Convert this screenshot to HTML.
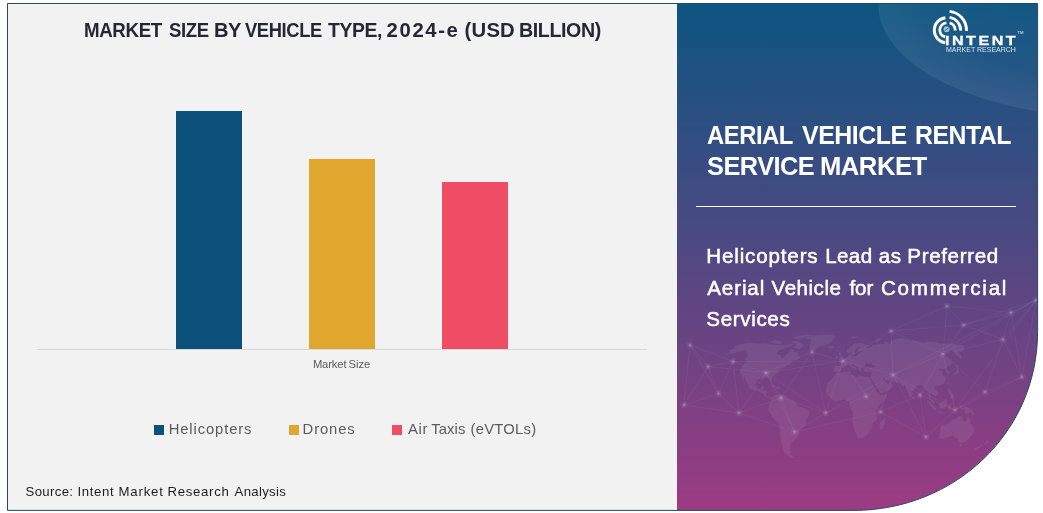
<!DOCTYPE html>
<html>
<head>
<meta charset="utf-8">
<title>Aerial Vehicle Rental Service Market</title>
<style>
html,body{margin:0;padding:0;background:#ffffff;}
body{width:1043px;height:513px;position:relative;overflow:hidden;font-family:"Liberation Sans",sans-serif;}
#art{position:absolute;left:0;top:0;}
#txt{position:absolute;left:0;top:0;width:1043px;height:513px;will-change:transform;}
.t{position:absolute;white-space:nowrap;line-height:1;margin:0;padding:0;transform-origin:0 0;}
/*TEXTCSS*/
.g_title{top:19.85px;font-size:20.30px;color:#232834;font-weight:bold;}
.g_axlab{top:358.90px;font-size:11.20px;color:#595959;}
.g_leg{top:421.75px;font-size:14.80px;color:#5b5b5b;}
.g_src{top:484.90px;font-size:13.20px;color:#1e1e1e;}
.g_pt1{top:121.60px;font-size:26.20px;color:#ffffff;font-weight:bold;}
.g_pt2{top:153.25px;font-size:26.20px;color:#ffffff;font-weight:bold;}
.g_ps1{top:246.05px;font-size:20.60px;color:#ffffff;-webkit-text-stroke:0.50px #ffffff;}
.g_ps2{top:277.50px;font-size:20.60px;color:#ffffff;-webkit-text-stroke:0.50px #ffffff;}
.g_ps3{top:308.85px;font-size:20.60px;color:#ffffff;-webkit-text-stroke:0.50px #ffffff;}
/*ENDTEXTCSS*/
#lg1{left:944.9px;top:33.6px;font-size:13.4px;font-weight:bold;color:#ffffff;letter-spacing:2.1px;transform:scaleX(1.2);-webkit-text-stroke:0.3px #ffffff;}
#lg2{left:945.6px;top:46.2px;font-size:8px;color:#d4e4f1;transform:scaleX(0.875);}
#lg3{left:1017.5px;top:31px;font-size:4.2px;color:#e8f0f7;}
</style>
</head>
<body>
<svg id="art" width="1043" height="513" viewBox="0 0 1043 513">
  <defs>
    <linearGradient id="pg" x1="0" y1="0" x2="0" y2="1">
      <stop offset="0" stop-color="#0b5581"/>
      <stop offset="0.5" stop-color="#514882"/>
      <stop offset="1" stop-color="#9d3b83"/>
    </linearGradient>
    <clipPath id="frame">
      <path d="M7.5 3.5 H1037.6 V331.4 C1037.6 434.2 953 510.4 854 510.4 H7.5 Z"/>
    </clipPath>
    <radialGradient id="glow" cx="0.5" cy="0.5" r="0.5">
      <stop offset="0" stop-color="#ffffff" stop-opacity="0.02"/>
      <stop offset="0.7" stop-color="#ffffff" stop-opacity="0.03"/>
      <stop offset="1" stop-color="#ffffff" stop-opacity="0.075"/>
    </radialGradient>
  </defs>
  <g clip-path="url(#frame)">
    <rect x="0" y="0" width="677" height="513" fill="#f2f2f2"/>
    <rect x="677" y="0" width="366" height="513" fill="url(#pg)"/>
    <ellipse cx="1111" cy="4.7" rx="232.7" ry="112.3" fill="url(#glow)"/>
    <path id="wmap" fill="#ffffff" fill-opacity="0.07" d="M733.9 346.9L739.5 344.6L748.7 342.7L756.7 343.7L765.1 343.4L771.5 344.6L777.4 345.0L783.2 345.4L788.5 344.6L793.0 343.8L791.0 346.5L785.6 348.1L779.2 350.6L776.4 352.5L776.9 353.9L780.7 355.3L781.2 357.8L782.8 358.6L784.9 355.6L788.3 353.1L790.6 349.3L793.6 349.7L794.2 352.2L797.9 351.4L797.0 353.9L798.8 355.6L800.4 358.2L796.5 359.9L791.9 359.9L787.4 362.6L792.0 361.2L791.3 363.4L794.1 363.4L789.5 364.8L785.9 365.7L784.8 367.3L781.4 368.4L778.8 370.6L778.2 373.0L775.2 374.4L772.3 376.5L772.0 380.6L771.1 382.2L770.3 380.6L770.0 378.3L768.3 378.1L765.1 377.7L763.9 378.7L760.6 378.3L757.5 379.8L756.0 383.3L755.5 385.5L756.4 387.8L757.6 388.5L760.3 388.3L761.6 386.0L764.8 385.5L763.3 388.7L762.5 390.5L766.5 390.7L766.7 393.7L766.0 395.9L767.6 396.9L769.8 396.4L771.8 397.3L771.0 398.7L769.3 397.5L766.6 397.5L764.5 395.9L763.0 393.2L760.0 392.3L757.6 390.5L754.9 390.7L751.6 389.4L748.5 387.3L748.6 385.1L747.1 382.4L744.9 378.7L744.9 376.7L743.4 376.9L744.5 382.4L745.3 384.2L743.8 381.9L742.6 379.2L742.1 375.6L740.0 373.8L740.1 371.5L740.2 368.8L744.5 363.4L747.2 361.2L745.7 359.5L746.7 356.5L747.5 353.9L746.5 352.5L745.1 351.4L742.6 350.7L738.2 351.8L734.4 353.1L729.7 354.3L723.2 355.8L731.4 352.6L729.2 352.2L729.8 350.6L733.1 348.9L736.7 348.0L734.1 347.6ZM805.5 337.4L810.8 336.2L817.7 335.1L828.1 334.5L834.8 335.6L835.7 337.1L832.9 339.8L830.6 342.7L827.4 344.6L822.7 345.4L818.7 346.9L814.7 349.7L812.5 351.4L810.1 350.6L809.5 348.1L809.4 345.8L810.6 343.4L811.2 340.5L809.8 338.9L805.5 338.8ZM797.4 340.9L799.2 342.0L802.0 343.4L803.9 345.8L800.6 348.5L797.3 349.3L795.6 348.1L792.9 347.3L796.9 345.0L795.2 343.4L791.2 342.7L792.2 340.9ZM769.3 342.0L772.4 342.7L776.4 344.2L781.1 343.4L782.3 341.2L778.1 340.9L775.8 339.8ZM793.9 339.1L799.5 339.1L804.9 337.1L813.9 335.4L808.1 334.8L799.4 335.6L794.3 337.1ZM771.8 397.3L774.0 395.2L776.8 394.1L777.6 395.0L780.3 394.6L783.8 395.5L786.0 395.5L787.3 397.3L789.8 399.6L794.3 400.5L796.0 404.1L797.8 406.0L801.4 407.4L805.0 407.9L807.8 409.8L809.6 411.8L809.7 413.7L808.0 416.6L806.4 419.5L806.2 422.4L805.2 426.3L802.7 427.2L799.6 430.1L799.4 432.6L797.4 436.9L795.3 438.9L794.1 440.3L794.1 441.7L790.7 442.7L791.1 444.6L789.3 445.6L790.1 448.5L789.2 449.9L791.0 451.3L790.1 454.1L791.5 455.9L794.4 457.8L791.8 458.2L787.2 455.5L783.6 451.3L782.9 447.5L781.2 442.7L780.6 438.9L780.0 434.0L779.8 429.2L779.0 422.9L775.4 420.5L773.1 418.1L770.7 413.7L768.3 410.8L767.9 409.2L769.1 407.4L768.3 406.0L769.0 404.1L770.4 402.7L771.4 401.4L771.5 398.7ZM836.6 372.6L839.9 373.1L844.2 371.7L850.0 371.2L850.8 374.2L850.0 374.5L854.3 375.8L857.7 377.6L858.5 375.6L862.8 376.2L866.2 376.9L869.2 376.8L870.7 379.7L872.3 383.3L873.8 386.0L875.2 388.7L876.7 391.4L879.5 394.1L880.4 395.5L886.6 394.1L886.3 396.9L884.1 400.5L880.6 404.1L877.9 406.9L876.0 410.8L877.3 415.2L877.1 419.5L873.0 422.9L871.9 426.3L872.3 428.2L869.7 430.1L869.0 433.0L866.2 436.0L863.1 437.9L858.4 438.7L857.0 437.4L856.0 433.0L854.3 430.6L854.0 426.3L851.8 421.4L853.1 416.6L852.2 410.8L849.1 406.0L849.6 401.8L847.3 401.1L844.6 399.4L839.2 400.5L834.3 401.0L831.2 398.9L829.0 396.4L826.4 393.7L825.5 391.7L826.6 387.8L826.2 386.0L828.7 381.5L831.9 379.2L833.2 376.9ZM885.1 416.6L885.9 420.0L883.4 426.3L882.3 429.2L879.7 429.2L879.5 425.3L880.6 421.0L882.9 419.5ZM834.2 371.5L834.1 369.7L834.9 365.9L840.4 365.7L841.2 363.4L838.8 361.4L841.1 361.1L843.5 359.2L845.5 358.2L847.8 356.9L848.9 355.2L848.7 353.9L850.4 353.3L850.4 355.6L851.8 356.2L853.0 356.5L856.2 355.8L858.0 354.7L858.2 353.5L860.0 353.6L859.5 352.0L862.5 351.6L863.9 351.4L859.0 351.4L857.8 350.6L857.7 348.9L859.8 347.1L857.8 346.7L855.1 349.7L854.8 351.0L856.0 351.4L854.7 353.9L852.9 355.2L852.0 354.7L850.7 352.2L848.6 352.9L846.8 352.2L846.6 350.0L848.7 348.5L851.3 346.5L853.1 344.6L855.5 343.4L859.1 342.7L862.9 343.2L864.3 344.0L869.8 345.8L869.4 346.5L866.1 346.1L867.9 348.1L869.8 347.6L872.0 346.4L871.4 344.7L877.7 344.7L881.0 343.8L884.9 344.2L884.1 342.0L887.4 341.6L889.8 345.0L890.6 342.0L891.5 340.9L894.0 339.8L899.1 338.9L901.1 338.0L908.0 339.2L910.0 340.7L918.9 341.2L923.4 342.7L926.9 341.4L934.3 342.3L942.7 343.7L948.5 343.4L956.0 344.2L965.9 346.1L963.5 346.9L964.2 349.3L961.2 351.4L957.2 351.5L958.9 353.3L961.2 355.6L961.4 359.0L955.2 354.3L953.1 350.6L949.8 350.2L949.7 352.2L943.1 352.0L941.8 356.0L947.2 357.3L951.7 361.7L951.6 364.3L948.1 366.1L947.0 367.5L946.5 369.3L949.0 371.5L950.1 373.3L948.3 374.0L946.5 371.5L944.4 369.1L941.8 369.7L941.4 368.2L939.0 369.7L943.6 371.5L941.7 373.3L944.1 376.0L946.2 377.8L945.6 381.5L943.6 383.7L940.9 385.1L938.0 386.0L936.1 385.5L934.8 387.8L937.6 391.0L938.7 394.1L936.8 395.7L935.1 397.1L934.6 395.7L932.1 393.9L930.7 392.8L930.1 395.5L931.2 398.2L933.6 400.9L934.6 403.7L932.1 402.5L930.8 399.1L929.1 397.5L929.0 394.1L927.7 390.2L925.9 390.5L924.5 388.3L922.1 385.5L920.2 385.1L917.7 385.5L916.1 387.1L913.9 390.1L912.3 391.4L912.6 395.0L910.5 397.8L909.0 395.5L907.4 391.9L905.6 387.8L905.2 386.0L902.8 386.2L901.2 383.9L899.7 382.6L894.9 382.2L891.2 381.9L890.3 380.6L888.2 380.9L885.4 379.7L884.3 377.8L882.6 377.8L883.2 379.2L885.0 381.0L886.2 382.4L886.3 383.3L888.5 383.3L890.3 381.5L890.6 382.8L893.4 384.6L892.2 387.8L889.9 389.6L887.3 391.0L883.8 392.3L881.2 393.5L879.7 393.5L879.0 390.5L876.4 386.9L874.5 383.3L871.6 379.7L871.1 378.3L870.8 376.7L871.5 374.2L871.7 372.0L869.2 372.2L867.1 372.1L864.6 371.7L863.6 370.2L863.4 368.8L865.5 367.9L868.6 367.0L871.1 367.5L875.6 367.5L874.9 366.1L871.4 364.3L872.4 363.0L869.7 363.4L868.7 364.8L868.1 363.4L866.1 363.4L864.8 365.2L864.6 367.0L863.0 367.9L860.6 368.4L861.6 370.6L860.4 372.0L859.1 370.2L857.8 368.4L857.7 367.0L854.8 365.7L852.8 363.9L851.8 364.8L853.2 366.6L854.9 367.2L857.0 368.6L855.8 369.7L855.0 370.6L854.7 368.8L852.0 367.5L850.4 366.1L849.0 364.9L846.8 366.1L844.5 365.9L844.5 367.2L841.8 368.8L841.3 370.6L840.0 371.8L837.2 372.3L836.4 371.7ZM838.1 359.9L842.4 359.2L843.6 357.8L842.6 356.9L841.6 355.6L841.4 353.5L840.5 352.6L839.4 352.6L838.5 354.3L839.0 355.6L840.4 356.0L840.2 357.1L839.2 357.3L838.7 358.4L840.2 358.7ZM838.0 358.0L838.2 356.5L836.9 355.4L835.2 356.5L835.3 358.4ZM827.8 346.9L829.4 346.2L833.3 346.1L834.6 347.3L831.3 348.6L828.4 348.3ZM952.4 376.5L952.6 374.2L954.8 372.9L955.7 371.5L956.8 370.6L956.2 368.4L956.9 367.6L954.7 366.1L954.2 364.0L958.6 365.7L957.6 367.0L958.6 369.7L958.7 371.1L959.3 373.3L956.9 373.6L955.8 374.7L953.2 374.7ZM912.7 396.2L914.4 398.2L913.3 399.6L912.6 397.8ZM926.6 400.0L929.1 401.4L931.8 403.2L934.6 406.5L936.3 408.4L935.8 410.6L932.7 408.9L930.1 405.5L928.2 402.7ZM935.7 411.3L938.4 411.3L940.7 411.3L943.7 412.3L943.7 413.2L939.6 412.9L936.1 412.1ZM939.1 403.6L941.3 402.7L943.9 400.7L946.0 398.7L947.9 400.5L946.9 402.7L947.6 404.1L945.8 406.5L945.3 408.9L942.6 408.2L940.4 407.9L939.1 405.5ZM948.5 404.5L949.9 403.9L953.5 403.6L952.1 404.7L949.9 404.5L950.3 406.0L951.9 406.0L950.7 407.4L951.5 409.8L949.8 409.4L949.3 410.3L948.4 408.4L948.1 406.0ZM958.9 405.8L961.6 405.8L962.4 408.2L965.1 406.6L967.8 407.5L971.3 409.4L973.5 410.8L972.9 411.8L975.7 415.2L972.6 414.7L970.2 412.4L967.3 413.9L964.7 413.0L965.0 410.3L961.5 408.9L960.3 407.6ZM947.7 388.3L949.2 388.3L949.5 390.5L951.6 392.8L953.3 395.0L954.5 398.2L953.7 399.6L952.3 398.7L950.5 398.7L951.2 396.9L950.2 395.5L948.9 392.8L947.7 390.5ZM946.7 382.2L947.7 382.4L947.4 385.1L946.5 384.2ZM947.2 356.2L950.3 358.2L952.5 360.8L954.8 363.0L954.0 363.4L950.9 359.9ZM875.0 342.3L876.3 340.9L878.0 339.1L881.9 338.4L881.7 339.4L877.9 341.6L877.4 342.9ZM850.5 336.8L853.1 336.4L857.8 336.3L856.5 337.8L853.9 338.6L852.2 338.0ZM940.9 426.3L940.4 430.1L939.8 435.0L938.6 438.2L940.8 438.9L945.9 437.9L951.5 435.7L953.7 435.5L955.3 438.6L958.4 436.9L957.4 439.3L957.8 441.5L960.1 442.5L962.4 442.7L966.2 441.3L969.6 437.4L972.3 435.0L974.0 431.6L974.7 429.2L973.4 427.7L972.4 424.8L970.4 423.4L970.5 419.5L968.9 418.5L968.5 415.4L967.5 417.6L966.2 421.0L964.7 421.9L962.0 420.0L962.5 416.8L959.5 415.9L957.0 417.6L956.3 419.5L954.2 418.5L952.2 420.0L949.5 421.9L948.5 423.4L944.6 424.9ZM959.9 444.3L962.7 444.4L960.8 446.7L958.9 447.1ZM987.1 438.4L987.6 439.8L987.7 441.4L989.7 441.5L987.2 443.2L984.3 445.1L984.5 444.2L984.7 443.0L986.4 441.7ZM982.8 444.2L983.1 445.3L980.2 447.3L977.6 448.6L975.2 449.9L973.3 449.4L976.2 447.5L980.0 445.9ZM766.6 385.1L771.2 384.2L775.2 386.3L775.8 386.7L772.8 387.0L771.8 385.5L769.3 384.6ZM775.6 387.1L779.4 387.1L780.7 388.2L777.8 389.0L775.4 388.3Z"/>
    <g id="net"><g stroke="#ffffff" stroke-opacity="0.065" stroke-width="0.8" fill="none"><path d="M708.0 366.5L718.5 393.5M708.0 366.5L733.0 361.5M708.0 366.5L766.0 372.7M708.0 366.5L690.0 345.0M708.0 366.5L684.0 405.0M718.5 393.5L733.0 361.5M718.5 393.5L739.0 413.0M718.5 393.5L690.0 345.0M718.5 393.5L684.0 405.0M733.0 361.5L766.0 372.7M733.0 361.5L739.0 413.0M733.0 361.5L843.0 361.0M733.0 361.5L690.0 345.0M766.0 372.7L739.0 413.0M766.0 372.7L794.6 432.0M766.0 372.7L825.7 413.0M766.0 372.7L843.0 361.0M766.0 372.7L781.0 398.0M766.0 372.7L812.0 352.0M739.0 413.0L794.6 432.0M739.0 413.0L781.0 398.0M739.0 413.0L684.0 405.0M794.6 432.0L825.7 413.0M794.6 432.0L880.6 412.0M794.6 432.0L781.0 398.0M825.7 413.0L843.0 361.0M825.7 413.0L893.0 374.8M825.7 413.0L866.0 396.4M825.7 413.0L781.0 398.0M825.7 413.0L812.0 352.0M843.0 361.0L891.0 331.0M843.0 361.0L893.0 374.8M843.0 361.0L866.0 396.4M843.0 361.0L812.0 352.0M891.0 331.0L893.0 374.8M891.0 331.0L943.0 354.0M891.0 331.0L963.7 325.0M891.0 331.0L947.0 306.0M893.0 374.8L880.6 412.0M893.0 374.8L866.0 396.4M893.0 374.8L943.0 354.0M893.0 374.8L955.0 410.0M893.0 374.8L926.0 437.0M893.0 374.8L1036.0 300.0M893.0 374.8L920.0 395.0M880.6 412.0L866.0 396.4M880.6 412.0L926.0 437.0M880.6 412.0L920.0 395.0M943.0 354.0L955.0 410.0M943.0 354.0L963.7 325.0M943.0 354.0L1003.0 339.5M943.0 354.0L947.0 306.0M943.0 354.0L985.0 392.0M943.0 354.0L1036.0 300.0M943.0 354.0L920.0 395.0M955.0 410.0L926.0 437.0M955.0 410.0L1022.0 377.0M955.0 410.0L985.0 392.0M955.0 410.0L1036.0 300.0M955.0 410.0L920.0 395.0M926.0 437.0L920.0 395.0M963.7 325.0L1003.0 339.5M963.7 325.0L947.0 306.0M963.7 325.0L1011.0 312.5M963.7 325.0L1036.0 300.0M1003.0 339.5L1011.0 312.5M1003.0 339.5L1022.0 377.0M1003.0 339.5L985.0 392.0M1003.0 339.5L1036.0 300.0M947.0 306.0L1011.0 312.5M1011.0 312.5L1022.0 377.0M1011.0 312.5L1036.0 300.0M1022.0 377.0L985.0 392.0M1022.0 377.0L1036.0 300.0M781.0 398.0L812.0 352.0M690.0 345.0L684.0 405.0"/></g>
<g fill="#ffffff"><circle cx="708.0" cy="366.5" r="3.6" fill-opacity="0.05"/><circle cx="708.0" cy="366.5" r="2.2" fill-opacity="0.08"/><circle cx="708.0" cy="366.5" r="1.1" fill-opacity="0.16"/><circle cx="718.5" cy="393.5" r="3.6" fill-opacity="0.05"/><circle cx="718.5" cy="393.5" r="2.2" fill-opacity="0.08"/><circle cx="718.5" cy="393.5" r="1.1" fill-opacity="0.16"/><circle cx="733.0" cy="361.5" r="3.6" fill-opacity="0.05"/><circle cx="733.0" cy="361.5" r="2.2" fill-opacity="0.08"/><circle cx="733.0" cy="361.5" r="1.1" fill-opacity="0.16"/><circle cx="766.0" cy="372.7" r="3.6" fill-opacity="0.05"/><circle cx="766.0" cy="372.7" r="2.2" fill-opacity="0.08"/><circle cx="766.0" cy="372.7" r="1.1" fill-opacity="0.16"/><circle cx="739.0" cy="413.0" r="3.6" fill-opacity="0.05"/><circle cx="739.0" cy="413.0" r="2.2" fill-opacity="0.08"/><circle cx="739.0" cy="413.0" r="1.1" fill-opacity="0.16"/><circle cx="794.6" cy="432.0" r="3.6" fill-opacity="0.05"/><circle cx="794.6" cy="432.0" r="2.2" fill-opacity="0.08"/><circle cx="794.6" cy="432.0" r="1.1" fill-opacity="0.16"/><circle cx="825.7" cy="413.0" r="3.6" fill-opacity="0.05"/><circle cx="825.7" cy="413.0" r="2.2" fill-opacity="0.08"/><circle cx="825.7" cy="413.0" r="1.1" fill-opacity="0.16"/><circle cx="843.0" cy="361.0" r="3.6" fill-opacity="0.05"/><circle cx="843.0" cy="361.0" r="2.2" fill-opacity="0.08"/><circle cx="843.0" cy="361.0" r="1.1" fill-opacity="0.16"/><circle cx="891.0" cy="331.0" r="3.6" fill-opacity="0.05"/><circle cx="891.0" cy="331.0" r="2.2" fill-opacity="0.08"/><circle cx="891.0" cy="331.0" r="1.1" fill-opacity="0.16"/><circle cx="893.0" cy="374.8" r="3.6" fill-opacity="0.05"/><circle cx="893.0" cy="374.8" r="2.2" fill-opacity="0.08"/><circle cx="893.0" cy="374.8" r="1.1" fill-opacity="0.16"/><circle cx="880.6" cy="412.0" r="3.6" fill-opacity="0.05"/><circle cx="880.6" cy="412.0" r="2.2" fill-opacity="0.08"/><circle cx="880.6" cy="412.0" r="1.1" fill-opacity="0.16"/><circle cx="866.0" cy="396.4" r="3.6" fill-opacity="0.05"/><circle cx="866.0" cy="396.4" r="2.2" fill-opacity="0.08"/><circle cx="866.0" cy="396.4" r="1.1" fill-opacity="0.16"/><circle cx="943.0" cy="354.0" r="3.6" fill-opacity="0.05"/><circle cx="943.0" cy="354.0" r="2.2" fill-opacity="0.08"/><circle cx="943.0" cy="354.0" r="1.1" fill-opacity="0.16"/><circle cx="955.0" cy="410.0" r="3.6" fill-opacity="0.05"/><circle cx="955.0" cy="410.0" r="2.2" fill-opacity="0.08"/><circle cx="955.0" cy="410.0" r="1.1" fill-opacity="0.16"/><circle cx="926.0" cy="437.0" r="3.6" fill-opacity="0.05"/><circle cx="926.0" cy="437.0" r="2.2" fill-opacity="0.08"/><circle cx="926.0" cy="437.0" r="1.1" fill-opacity="0.16"/><circle cx="963.7" cy="325.0" r="3.6" fill-opacity="0.05"/><circle cx="963.7" cy="325.0" r="2.2" fill-opacity="0.08"/><circle cx="963.7" cy="325.0" r="1.1" fill-opacity="0.16"/><circle cx="1003.0" cy="339.5" r="3.6" fill-opacity="0.05"/><circle cx="1003.0" cy="339.5" r="2.2" fill-opacity="0.08"/><circle cx="1003.0" cy="339.5" r="1.1" fill-opacity="0.16"/><circle cx="947.0" cy="306.0" r="3.6" fill-opacity="0.05"/><circle cx="947.0" cy="306.0" r="2.2" fill-opacity="0.08"/><circle cx="947.0" cy="306.0" r="1.1" fill-opacity="0.16"/><circle cx="1011.0" cy="312.5" r="3.6" fill-opacity="0.05"/><circle cx="1011.0" cy="312.5" r="2.2" fill-opacity="0.08"/><circle cx="1011.0" cy="312.5" r="1.1" fill-opacity="0.16"/><circle cx="1022.0" cy="377.0" r="3.6" fill-opacity="0.05"/><circle cx="1022.0" cy="377.0" r="2.2" fill-opacity="0.08"/><circle cx="1022.0" cy="377.0" r="1.1" fill-opacity="0.16"/><circle cx="781.0" cy="398.0" r="3.6" fill-opacity="0.05"/><circle cx="781.0" cy="398.0" r="2.2" fill-opacity="0.08"/><circle cx="781.0" cy="398.0" r="1.1" fill-opacity="0.16"/><circle cx="812.0" cy="352.0" r="3.6" fill-opacity="0.05"/><circle cx="812.0" cy="352.0" r="2.2" fill-opacity="0.08"/><circle cx="812.0" cy="352.0" r="1.1" fill-opacity="0.16"/><circle cx="690.0" cy="345.0" r="3.6" fill-opacity="0.05"/><circle cx="690.0" cy="345.0" r="2.2" fill-opacity="0.08"/><circle cx="690.0" cy="345.0" r="1.1" fill-opacity="0.16"/><circle cx="684.0" cy="405.0" r="3.6" fill-opacity="0.05"/><circle cx="684.0" cy="405.0" r="2.2" fill-opacity="0.08"/><circle cx="684.0" cy="405.0" r="1.1" fill-opacity="0.16"/><circle cx="985.0" cy="392.0" r="3.6" fill-opacity="0.05"/><circle cx="985.0" cy="392.0" r="2.2" fill-opacity="0.08"/><circle cx="985.0" cy="392.0" r="1.1" fill-opacity="0.16"/><circle cx="1036.0" cy="300.0" r="3.6" fill-opacity="0.05"/><circle cx="1036.0" cy="300.0" r="2.2" fill-opacity="0.08"/><circle cx="1036.0" cy="300.0" r="1.1" fill-opacity="0.16"/><circle cx="920.0" cy="395.0" r="3.6" fill-opacity="0.05"/><circle cx="920.0" cy="395.0" r="2.2" fill-opacity="0.08"/><circle cx="920.0" cy="395.0" r="1.1" fill-opacity="0.16"/></g>
</g>
  </g>
  <path d="M7.5 3.5 H1037.6 V331.4 C1037.6 434.2 953 510.4 854 510.4 H7.5 Z" fill="none" stroke="#27495f" stroke-width="1"/>
  <g id="logo" fill="none" stroke="#ffffff" stroke-width="2.9">
    <path d="M949.60 11.41A18.90 18.90 0 0 1 966.49 30.86"/>
    <path d="M949.60 17.35A13.00 13.00 0 0 1 960.59 30.65"/>
    <path d="M949.60 22.87A7.60 7.60 0 0 1 955.20 30.47"/>
    <path d="M945.15 42.68A12.60 12.60 0 0 1 945.36 17.69"/>
    <path d="M945.18 36.89A7.10 7.10 0 0 1 946.40 22.92"/>
  </g>
  <circle cx="946.6" cy="29.2" r="3" fill="#9fc4e0"/>
  <path d="M944.6 30.6 L948.8 27.8" stroke="#2a6a9a" stroke-width="0.9" fill="none"/>
  <!-- chart -->
  <rect x="37" y="349" width="610" height="1" fill="#d9d9d9"/>
  <rect x="176" y="111" width="66" height="238" fill="#0b517b"/>
  <rect x="309" y="159" width="66" height="190" fill="#e1a62e"/>
  <rect x="442" y="182" width="66" height="167" fill="#ef4c65"/>
  <!-- legend markers -->
  <rect x="154" y="425" width="10" height="10" fill="#0b517b"/>
  <rect x="289" y="425" width="10" height="10" fill="#e1a62e"/>
  <rect x="392" y="425" width="10" height="10" fill="#ef4c65"/>
  <!-- panel rule -->
  <rect x="696" y="206" width="320" height="1" fill="#ffffff" opacity="0.97"/>
</svg>
<div id="txt">
<div class="t g_title" style="left:84.28px;letter-spacing:-0.406px;transform:scaleX(0.9226)">MARKET</div>
<div class="t g_title" style="left:169.00px;letter-spacing:-0.406px;transform:scaleX(0.9139)">SIZE</div>
<div class="t g_title" style="left:213.91px;letter-spacing:-0.406px;transform:scaleX(0.9912)">BY</div>
<div class="t g_title" style="left:245.20px;letter-spacing:-0.406px;transform:scaleX(0.9042)">VEHICLE</div>
<div class="t g_title" style="left:327.70px;letter-spacing:-0.406px;transform:scaleX(0.9548)">TYPE,</div>
<div class="t g_title" style="left:386.60px;letter-spacing:1.626px">2024-e</div>
<div class="t g_title" style="left:464.60px;letter-spacing:0.191px">(USD</div>
<div class="t g_title" style="left:518.93px;letter-spacing:-0.406px;transform:scaleX(0.9667)">BILLION)</div>
<div class="t g_axlab" style="left:312.90px;letter-spacing:-0.096px">Market</div>
<div class="t g_axlab" style="left:348.50px;letter-spacing:0.020px">Size</div>
<div class="t g_leg" style="left:168.70px;letter-spacing:0.879px">Helicopters</div>
<div class="t g_leg" style="left:302.60px;letter-spacing:0.880px">Drones</div>
<div class="t g_leg" style="left:408.10px;letter-spacing:0.622px">Air</div>
<div class="t g_leg" style="left:431.30px;letter-spacing:0.072px">Taxis</div>
<div class="t g_leg" style="left:470.60px;letter-spacing:0.238px">(eVTOLs)</div>
<div class="t g_src" style="left:25.60px;letter-spacing:0.319px">Source:</div>
<div class="t g_src" style="left:77.40px;letter-spacing:0.654px">Intent</div>
<div class="t g_src" style="left:118.60px;letter-spacing:0.792px">Market</div>
<div class="t g_src" style="left:167.50px;letter-spacing:0.699px">Research</div>
<div class="t g_src" style="left:234.60px;letter-spacing:0.298px">Analysis</div>
<div class="t g_pt1" style="left:706.80px;letter-spacing:-0.524px;transform:scaleX(0.9108)">AERIAL</div>
<div class="t g_pt1" style="left:801.90px;letter-spacing:-0.524px;transform:scaleX(0.9519)">VEHICLE</div>
<div class="t g_pt1" style="left:915.25px;letter-spacing:-0.524px;transform:scaleX(0.9480)">RENTAL</div>
<div class="t g_pt2" style="left:707.30px;letter-spacing:-0.524px;transform:scaleX(0.9677)">SERVICE</div>
<div class="t g_pt2" style="left:820.42px;letter-spacing:-0.524px;transform:scaleX(0.9797)">MARKET</div>
<div class="t g_ps1" style="left:706.25px;letter-spacing:0.839px">Helicopters</div>
<div class="t g_ps1" style="left:825.15px;letter-spacing:0.380px">Lead</div>
<div class="t g_ps1" style="left:878.75px;letter-spacing:0.647px">as</div>
<div class="t g_ps1" style="left:907.35px;letter-spacing:0.626px">Preferred</div>
<div class="t g_ps2" style="left:707.25px;letter-spacing:0.865px">Aerial</div>
<div class="t g_ps2" style="left:771.55px;letter-spacing:0.491px">Vehicle</div>
<div class="t g_ps2" style="left:849.45px;letter-spacing:-0.087px">for</div>
<div class="t g_ps2" style="left:880.95px;letter-spacing:1.737px">Commercial</div>
<div class="t g_ps3" style="left:706.25px;letter-spacing:0.647px">Services</div>
<div class="t" id="lg1">INTENT</div>
<div class="t" id="lg2">MARKET RESEARCH</div>
<div class="t" id="lg3">TM</div>
</div>
</body>
</html>
